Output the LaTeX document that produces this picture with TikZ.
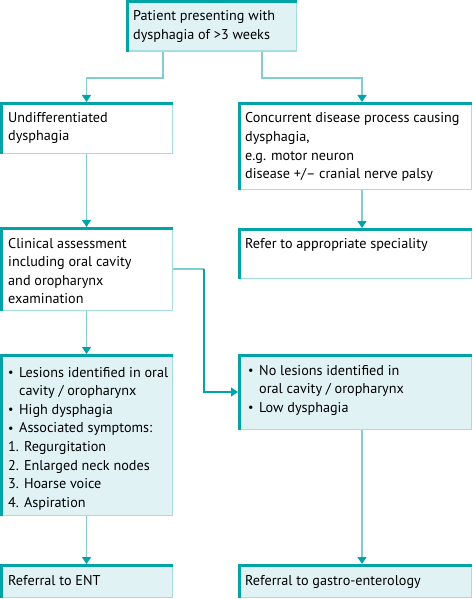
\documentclass[tikz,border=0pt]{standalone}
\usepackage{fontspec}
\setmainfont{PT Sans}
\usetikzlibrary{arrows.meta,calc}
\definecolor{dteal}{HTML}{00A4A6}
\definecolor{lteal}{HTML}{7FCFD1}
\definecolor{edgec}{HTML}{A6DDDF}
\definecolor{bfill}{HTML}{E1F2F4}
\newcommand\boxedges[1]{%
  \draw[edgec, line width=1.5pt] ([yshift=-1.5pt,xshift=-0.75pt]#1.north east) -- ([xshift=-0.75pt,yshift=0.75pt]#1.south east) -- ([yshift=0.75pt]#1.south west);
  \draw[dteal, line width=3pt] ([xshift=1.5pt]#1.south west) -- ([xshift=1.5pt,yshift=-1.5pt]#1.north west) -- ([yshift=-1.5pt]#1.north east);}
\newcommand\bul{\makebox[11pt][l]{\raisebox{0.5pt}{\scalebox{0.85}{\textbullet}}}}
\begin{document}
\begin{tikzpicture}[x=1pt,y=-1pt,
  box/.style={draw=none, inner sep=0pt, outer sep=0pt, anchor=north west},
  filled/.style={box, fill=bfill},
  plain/.style={box, fill=white},
  txt/.style={anchor=base west, inner sep=0pt, font=\fontsize{14.2}{18.6}\selectfont},
  conn/.style={draw=lteal, line width=1.3pt},
  conndark/.style={draw=dteal, line width=1.1pt},
  tip/.style={-{Triangle[width=9pt,length=7pt,color=dteal,fill=dteal]}},
]
\useasboundingbox (0,0) rectangle (473,599);
% boxes
\node[filled, minimum width=171pt, minimum height=52pt] (tb) at (126,0) {};
\node[plain, minimum width=173pt, minimum height=52pt] (b1) at (0,102) {};
\node[plain, minimum width=234pt, minimum height=88pt] (b2) at (238,102) {};
\node[plain, minimum width=173pt, minimum height=84pt] (b3) at (0,227) {};
\node[plain, minimum width=234pt, minimum height=51pt] (b4) at (238,228) {};
\node[filled, minimum width=173pt, minimum height=162pt] (b5) at (0,354) {};
\node[filled, minimum width=234pt, minimum height=76pt] (b6) at (238,354) {};
\node[filled, minimum width=173pt, minimum height=34pt] (b7) at (0,564) {};
\node[filled, minimum width=234pt, minimum height=34pt] (b8) at (238,564) {};
% connectors
\draw[conn, tip] ([xshift=37pt]tb.south west) -- ++(0,26) -| (b1.north);
\draw[conn, tip] ([xshift=-35pt]tb.south east) -- ++(0,26) -| ([xshift=7pt]b2.north);
\draw[conn, tip] (b1.south) -- (b3.north);
\draw[conn, tip] ([xshift=7pt]b2.south) -- ([xshift=7pt]b4.north);
\draw[conn, tip] (b3.south) -- (b5.north);
\coordinate (e1) at ([yshift=-42pt]b3.north east);
\coordinate (e2) at ($(e1)+(31,0)$);
\draw[conn] (e1) -- (e2);
\draw[conndark, tip] (e2) |- (b6.west);
\draw[conn, tip] (b5.south) -- (b7.north);
\draw[conn, tip] ([xshift=7pt]b6.south) -- ([xshift=7pt]b8.north);
% edges
\boxedges{tb}\boxedges{b1}\boxedges{b2}\boxedges{b3}
\boxedges{b4}\boxedges{b5}\boxedges{b6}\boxedges{b7}\boxedges{b8}
% texts
\node[txt] (t0) at ($(tb.north west)+(7,21)$) {\parbox[t]{165pt}{Patient presenting with\\dysphagia of >3 weeks}};
\node[txt] (t1) at ($(b1.north west)+(8,20)$) {\parbox[t]{165pt}{Undifferentiated\\dysphagia}};
\node[txt] (t2) at ($(b2.north west)+(7,21)$) {\parbox[t]{228pt}{Concurrent disease process causing\\dysphagia,\\e.g. motor neuron\\disease +/\textendash{} cranial nerve palsy}};
\node[txt] (t3) at ($(b3.north west)+(8,21)$) {\parbox[t]{165pt}{Clinical assessment\\including oral cavity\\and oropharynx\\examination}};
\node[txt] (t4) at ($(b4.north west)+(7,20)$) {\parbox[t]{228pt}{Refer to appropriate speciality}};
\node[txt] (t5) at ($(b5.north west)+(8,23)$) {\parbox[t]{165pt}{\bul Lesions identified in oral\\\hspace*{11pt}cavity / oropharynx\\\bul High dysphagia\\\bul Associated symptoms:\\1. Regurgitation\\2. Enlarged neck nodes\\3. Hoarse voice\\4. Aspiration}};
\node[txt] (t6) at ($(b6.north west)+(10,21)$) {\parbox[t]{224pt}{\bul No lesions identified in\\\hspace*{11pt}oral cavity / oropharynx\\\bul Low dysphagia}};
\node[txt] (t7) at ($(b7.north west)+(8,21)$) {Referral to ENT};
\node[txt] (t8) at ($(b8.north west)+(7,21)$) {Referral to gastro-enterology};
\end{tikzpicture}
\end{document}
